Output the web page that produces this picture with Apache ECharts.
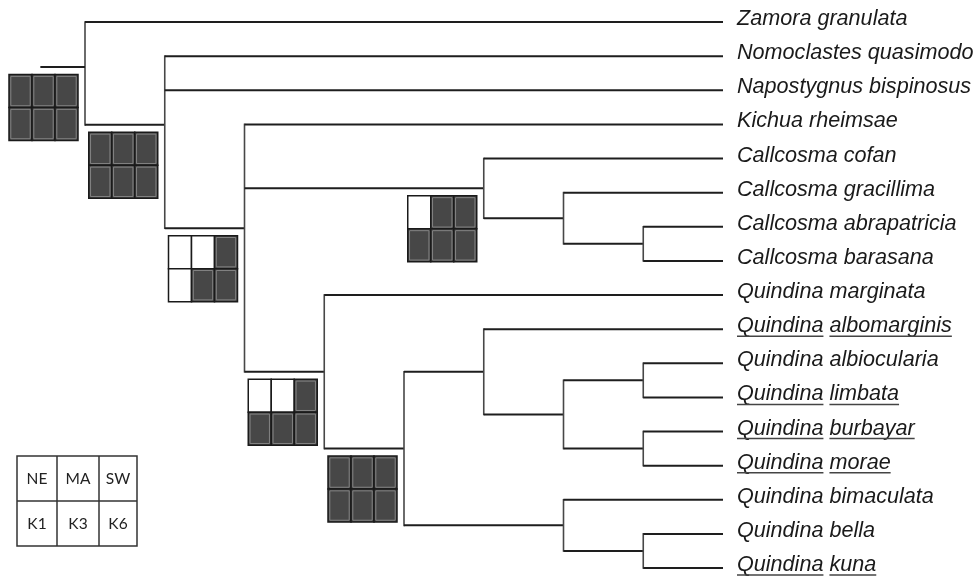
<!DOCTYPE html>
<html><head><meta charset="utf-8">
<script src="https://cdn.jsdelivr.net/npm/echarts@6/dist/echarts.min.js"></script>
<style>html,body{margin:0;padding:0;background:#fff}#c{width:976px;height:577px}</style>
</head><body><div id="c"></div>
<script>
// ---- data ----
const taxa = [
  'Zamora granulata', 'Nomoclastes quasimodo', 'Napostygnus bispinosus', 'Kichua rheimsae',
  'Callcosma cofan', 'Callcosma gracillima', 'Callcosma abrapatricia', 'Callcosma barasana',
  'Quindina marginata', 'Quindina albomarginis', 'Quindina albiocularia', 'Quindina limbata',
  'Quindina burbayar', 'Quindina morae', 'Quindina bimaculata', 'Quindina bella', 'Quindina kuna'
];
const underlined = [0,0,0,0,0,0,0,0,0,1,0,1,1,1,0,0,1];
const nodeNames = ['root','A','B','C','C2','C3','D','E','F','F2','F3','F4','G','G2'];
const nodeKids = [
  ['L0','A'],
  ['L1','L2','B'],
  ['L3','C','D'],
  ['L4','C2'],
  ['L5','C3'],
  ['L6','L7'],
  ['L8','E'],
  ['F','G'],
  ['L9','F2'],
  ['F3','F4'],
  ['L10','L11'],
  ['L12','L13'],
  ['L14','G2'],
  ['L15','L16']
];
const rootStemY = 1.32;
const rootStemStart = -0.56;
// states: [NE, MA, SW, K1, K3, K6]  (1 = filled)
const boxNodes = ['root','A','B','C','D','E'];
const boxStates = [
  [1,1,1,1,1,1],
  [1,1,1,1,1,1],
  [0,0,1,0,1,1],
  [0,1,1,1,1,1],
  [0,0,1,1,1,1],
  [1,1,1,1,1,1]
];
const legendTop = ['NE','MA','SW'];
const legendBottom = ['K1','K3','K6'];

// ---- layout (cladogram: leaves aligned) ----
const pos = {};
taxa.forEach((t, i) => { pos['L' + i] = { h: 0, y: i }; });
function lay(name) {
  if (pos[name]) return pos[name];
  const kids = nodeKids[nodeNames.indexOf(name)];
  const ps = kids.map(lay);
  const h = 1 + Math.max(...ps.map(p => p.h));
  const y = ps.reduce((s, p) => s + p.y, 0) / ps.length;
  pos[name] = { h: h, y: y };
  return pos[name];
}
lay('root');
const maxH = pos.root.h;
const X = n => maxH - pos[n].h;
pos.root.y = rootStemY;

const segments = [];
nodeNames.forEach((n, i) => {
  const kids = nodeKids[i];
  const ys = kids.map(k => pos[k].y);
  const x = X(n);
  segments.push([x, Math.min(...ys), x, Math.max(...ys), 0]);
  kids.forEach(k => segments.push([x, pos[k].y, X(k), pos[k].y, 1]));
});
segments.push([rootStemStart, pos.root.y, 0, pos.root.y, 1]);

const labelData = taxa.map((t, i) => [maxH, i, underlined[i], i]);
const boxData = boxNodes.map((n, i) => [X(n), pos[n].y, i]);

// ---- text measuring ----
const FAMILY = 'Liberation Sans';
const FSIZE = 21.6;
const mctx = document.createElement('canvas').getContext('2d');
mctx.font = 'italic ' + FSIZE + 'px "' + FAMILY + '"';
const tw = s => mctx.measureText(s).width;

const chart = echarts.init(document.getElementById('c'), null, { renderer: 'canvas' });

const LEG = { colX: [17, 57, 99, 137], rowY: [456, 501, 546] };
const legendGraphics = [];
legendGraphics.push({ type: 'rect', shape: { x: 17, y: 456, width: 120, height: 90 }, style: { fill: '#fff', stroke: '#333', lineWidth: 1.5 } });
legendGraphics.push({ type: 'line', shape: { x1: 57, y1: 456, x2: 57, y2: 546 }, style: { stroke: '#333', lineWidth: 1.5 } });
legendGraphics.push({ type: 'line', shape: { x1: 99, y1: 456, x2: 99, y2: 546 }, style: { stroke: '#333', lineWidth: 1.5 } });
legendGraphics.push({ type: 'line', shape: { x1: 17, y1: 501, x2: 137, y2: 501 }, style: { stroke: '#333', lineWidth: 1.5 } });
[legendTop, legendBottom].forEach((row, r) => {
  row.forEach((t, c) => {
    legendGraphics.push({
      type: 'text',
      x: (LEG.colX[c] + LEG.colX[c + 1]) / 2,
      y: (LEG.rowY[r] + LEG.rowY[r + 1]) / 2,
      style: { text: t, fontFamily: 'Lato', fontSize: 15.5, fill: '#222', align: 'center', verticalAlign: 'middle' }
    });
  });
});

chart.setOption({
  animation: false,
  backgroundColor: '#fff',
  grid: { left: 85, right: 253, top: 22, bottom: 9 },
  xAxis: { type: 'value', min: 0, max: maxH, show: false },
  yAxis: { type: 'value', min: 0, max: taxa.length - 1, inverse: true, show: false },
  graphic: legendGraphics,
  series: [
    {
      type: 'custom',
      data: segments,
      clip: false,
      renderItem(params, api) {
        const p1 = api.coord([api.value(0), api.value(1)]);
        const p2 = api.coord([api.value(2), api.value(3)]);
        const horiz = api.value(4) === 1;
        return {
          type: 'line',
          shape: { x1: p1[0], y1: p1[1], x2: p2[0], y2: p2[1] },
          style: { stroke: horiz ? '#1e1e1e' : '#474747', lineWidth: horiz ? 2 : 1.6, lineCap: horiz ? 'butt' : 'square' }
        };
      }
    },
    {
      type: 'custom',
      data: labelData,
      clip: false,
      renderItem(params, api) {
        const p = api.coord([api.value(0), api.value(1)]);
        const name = taxa[api.value(3)];
        const x0 = p[0] + 14;
        const children = [{
          type: 'text',
          x: x0, y: p[1] - 3,
          style: { text: name, fontFamily: FAMILY, fontSize: FSIZE, fontStyle: 'italic', fill: '#1a1a1a', align: 'left', verticalAlign: 'middle' }
        }];
        if (api.value(2) === 1) {
          const words = name.split(' ');
          const w1 = tw(words[0]), ws = tw(' '), w2 = tw(words[1]);
          const uy = p[1] + 7;
          children.push({ type: 'line', shape: { x1: x0, y1: uy, x2: x0 + w1, y2: uy }, style: { stroke: '#444', lineWidth: 1.5 } });
          children.push({ type: 'line', shape: { x1: x0 + w1 + ws, y1: uy, x2: x0 + w1 + ws + w2, y2: uy }, style: { stroke: '#444', lineWidth: 1.5 } });
        }
        return { type: 'group', children: children };
      }
    },
    {
      type: 'custom',
      data: boxData,
      clip: false,
      renderItem(params, api) {
        const p = api.coord([api.value(0), api.value(1)]);
        const states = boxStates[api.value(2)];
        const cw = 23, ch = 33;
        const left = p[0] - 7 - 3 * cw, top = p[1] + 7.5;
        const children = [];
        for (let r = 0; r < 2; r++) {
          for (let c = 0; c < 3; c++) {
            const on = states[r * 3 + c] === 1;
            const x = left + c * cw, y = top + r * ch;
            children.push({ type: 'rect', shape: { x: x, y: y, width: cw, height: ch }, style: { fill: on ? '#474747' : '#fff', stroke: '#1a1a1a', lineWidth: 1.5 } });
            if (on) {
              children.push({ type: 'rect', shape: { x: x + 1.8, y: y + 1.8, width: cw - 3.6, height: ch - 3.6 }, style: { fill: 'none', stroke: '#8a8a8a', lineWidth: 0.9 } });
            }
          }
        }
        return { type: 'group', children: children };
      }
    }
  ]
});
</script>
</body></html>
